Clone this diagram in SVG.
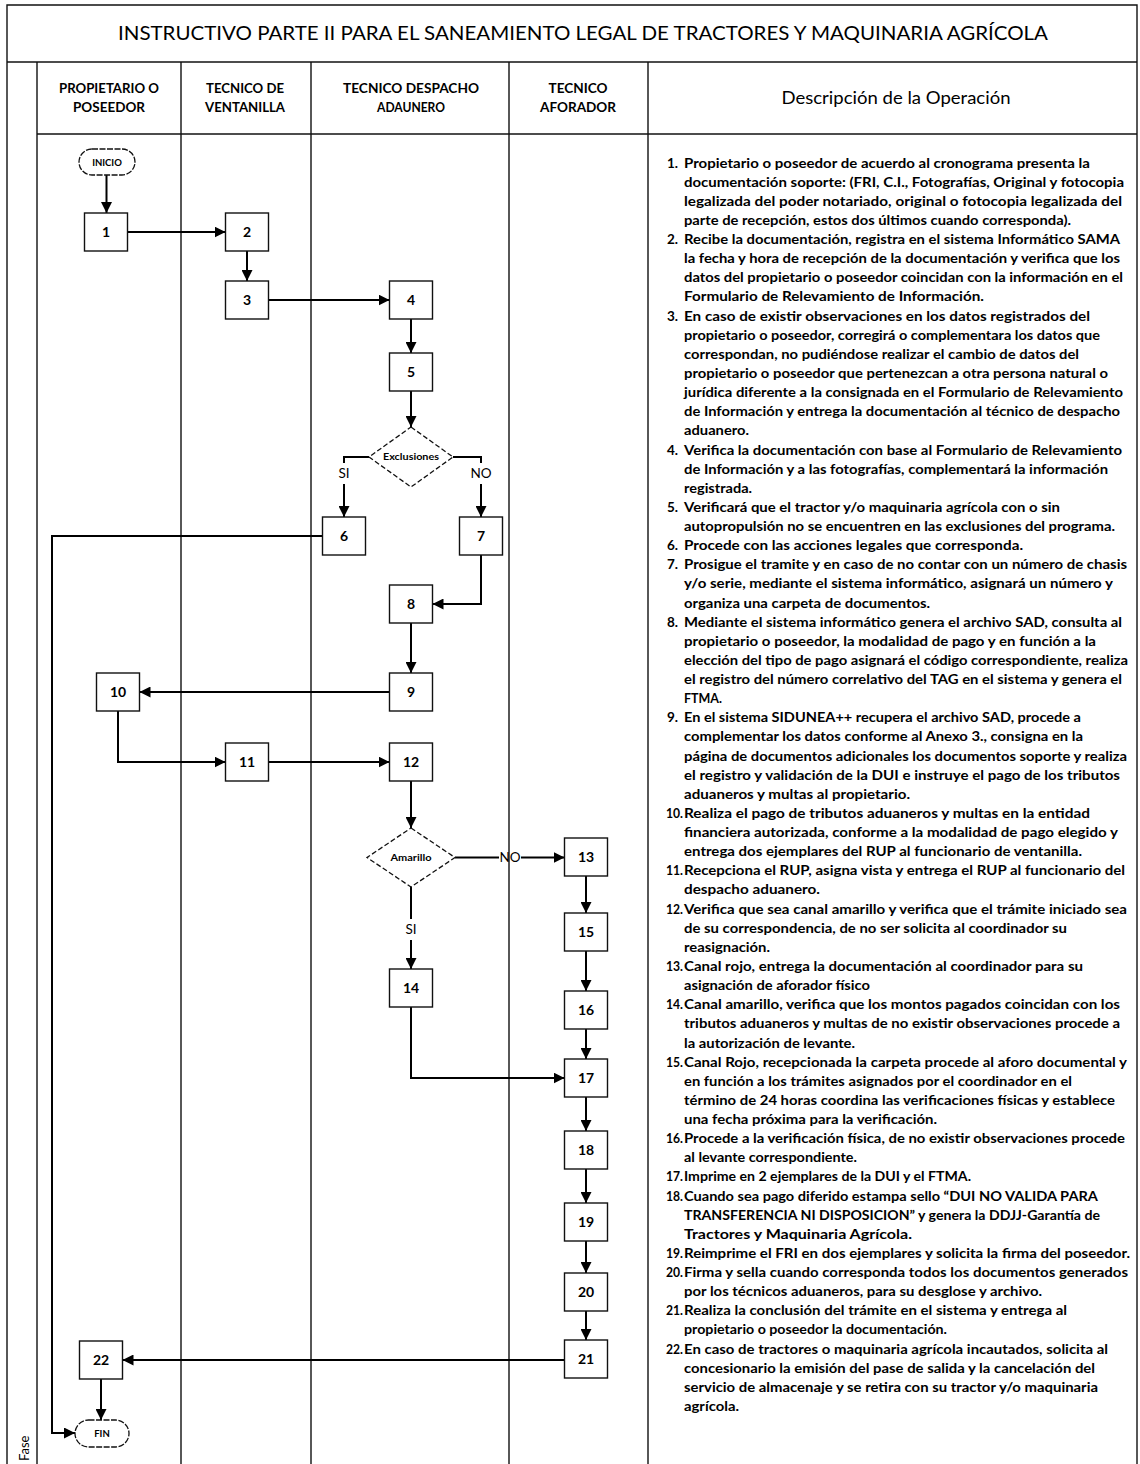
<svg xmlns="http://www.w3.org/2000/svg" width="1140" height="1464" viewBox="0 0 1140 1464">
<style>
.lane{stroke:#111;stroke-width:1.4;fill:none}
.box{fill:#fff;stroke:#111;stroke-width:1.4}
.dia{fill:#fff;stroke:#111;stroke-width:1.3;stroke-dasharray:5 2.5}
.term{fill:#fff;stroke:#111;stroke-width:1.3;stroke-dasharray:6 1.5}
.conn{stroke:#000;stroke-width:2;fill:none}
.num{font-family:Lato,"Liberation Sans",sans-serif;font-weight:700;font-size:14px;text-anchor:middle;fill:#000}
.small{font-family:Lato,"Liberation Sans",sans-serif;font-weight:700;font-size:9.5px;text-anchor:middle;fill:#000}
.lbl{font-family:Lato,"Liberation Sans",sans-serif;font-size:13.5px;text-anchor:middle;fill:#000}
.hdr{font-family:Lato,"Liberation Sans",sans-serif;font-weight:700;font-size:12.5px;text-anchor:middle;fill:#000}
.title{font-family:Lato,"Liberation Sans",sans-serif;font-size:20px;text-anchor:middle;fill:#000}
.desc{font-family:Lato,"Liberation Sans",sans-serif;font-weight:700;font-size:13.5px;fill:#000}
</style>
<defs>
<marker id="arr" viewBox="0 0 10 10" refX="10" refY="5" markerWidth="11" markerHeight="11" markerUnits="userSpaceOnUse" orient="auto"><path d="M0,0 L10,5 L0,10 z" fill="#000"/></marker>
</defs>

<g id="frame">
<path class="lane" d="M7,1464 V5 H1137 V1464"/>
<path class="lane" d="M7,62 H1137"/>
<path class="lane" d="M37,134 H1137"/>
<path class="lane" d="M37,62 V1464 M181,62 V1464 M311,62 V1464 M509,62 V1464 M648,62 V1464"/>
<text class="title" x="583" y="40" textLength="930" lengthAdjust="spacingAndGlyphs">INSTRUCTIVO PARTE II PARA EL SANEAMIENTO LEGAL DE TRACTORES Y MAQUINARIA AGRÍCOLA</text>
<text class="hdr" x="109" y="93" textLength="100" lengthAdjust="spacingAndGlyphs">PROPIETARIO O</text>
<text class="hdr" x="109" y="112" textLength="72" lengthAdjust="spacingAndGlyphs">POSEEDOR</text>
<text class="hdr" x="245" y="93" textLength="78" lengthAdjust="spacingAndGlyphs">TECNICO DE</text>
<text class="hdr" x="245" y="112" textLength="80" lengthAdjust="spacingAndGlyphs">VENTANILLA</text>
<text class="hdr" x="411" y="93" textLength="136" lengthAdjust="spacingAndGlyphs">TECNICO DESPACHO</text>
<text class="hdr" x="411" y="112" textLength="68" lengthAdjust="spacingAndGlyphs">ADAUNERO</text>
<text class="hdr" x="578" y="93" textLength="59" lengthAdjust="spacingAndGlyphs">TECNICO</text>
<text class="hdr" x="578" y="112" textLength="76" lengthAdjust="spacingAndGlyphs">AFORADOR</text>
<text x="896" y="104" font-family="Lato, 'Liberation Sans', sans-serif" font-size="16.5" text-anchor="middle" textLength="229" lengthAdjust="spacingAndGlyphs">Descripción de la Operación</text>
<text transform="translate(29,1461) rotate(-90)" x="0" y="0" font-family="Lato, 'Liberation Sans', sans-serif" font-size="13">Fase</text>
</g>

<g id="connectors">
<path class="conn" d="M106.5,175 V213" marker-end="url(#arr)"/>
<path class="conn" d="M128,232 H225.5" marker-end="url(#arr)"/>
<path class="conn" d="M247,251 V281" marker-end="url(#arr)"/>
<path class="conn" d="M268.5,300 H389.5" marker-end="url(#arr)"/>
<path class="conn" d="M411,319 V353" marker-end="url(#arr)"/>
<path class="conn" d="M411,391 V427" marker-end="url(#arr)"/>
<path class="conn" d="M369,457 H344 V463"/>
<path class="conn" d="M344,484 V517" marker-end="url(#arr)"/>
<path class="conn" d="M453,457 H481 V463"/>
<path class="conn" d="M481,484 V517" marker-end="url(#arr)"/>
<path class="conn" d="M481,555 V604 H432.5" marker-end="url(#arr)"/>
<path class="conn" d="M411,623 V673" marker-end="url(#arr)"/>
<path class="conn" d="M389.5,692 H139.5" marker-end="url(#arr)"/>
<path class="conn" d="M118,711 V762 H225.5" marker-end="url(#arr)"/>
<path class="conn" d="M268.5,762 H389.5" marker-end="url(#arr)"/>
<path class="conn" d="M411,781 V828" marker-end="url(#arr)"/>
<path class="conn" d="M455,857.5 H499"/>
<path class="conn" d="M521,857.5 H564.5" marker-end="url(#arr)"/>
<path class="conn" d="M411,887 V919"/>
<path class="conn" d="M411,940 V969" marker-end="url(#arr)"/>
<path class="conn" d="M586,876 V913" marker-end="url(#arr)"/>
<path class="conn" d="M586,951 V991" marker-end="url(#arr)"/>
<path class="conn" d="M586,1029 V1059" marker-end="url(#arr)"/>
<path class="conn" d="M411,1007 V1078 H564.5" marker-end="url(#arr)"/>
<path class="conn" d="M586,1097 V1131" marker-end="url(#arr)"/>
<path class="conn" d="M586,1169 V1203" marker-end="url(#arr)"/>
<path class="conn" d="M586,1241 V1273" marker-end="url(#arr)"/>
<path class="conn" d="M586,1311 V1340" marker-end="url(#arr)"/>
<path class="conn" d="M564.5,1360 H122.5" marker-end="url(#arr)"/>
<path class="conn" d="M101,1379 V1420" marker-end="url(#arr)"/>
<path class="conn" d="M322.5,536 H52 V1433 H75" marker-end="url(#arr)"/>
<text class="lbl" x="344" y="478">SI</text>
<text class="lbl" x="481" y="478">NO</text>
<text class="lbl" x="510" y="862">NO</text>
<text class="lbl" x="411" y="934">SI</text>
</g>

<g id="n-inicio"><rect class="term" x="79" y="149" width="56" height="26" rx="13"/><text class="small" x="107" y="166">INICIO</text></g>
<g id="n1"><rect class="box" x="84.5" y="213" width="43" height="38"/><text class="num" x="106" y="237">1</text></g>
<g id="n2"><rect class="box" x="225.5" y="213" width="43" height="38"/><text class="num" x="247" y="237">2</text></g>
<g id="n3"><rect class="box" x="225.5" y="281" width="43" height="38"/><text class="num" x="247" y="305">3</text></g>
<g id="n4"><rect class="box" x="389.5" y="281" width="43" height="38"/><text class="num" x="411" y="305">4</text></g>
<g id="n5"><rect class="box" x="389.5" y="353" width="43" height="38"/><text class="num" x="411" y="377">5</text></g>
<g id="d-exclusiones"><polygon class="dia" points="411,427 453,457 411,487 369,457"/><text class="small" x="411" y="460" textLength="56" lengthAdjust="spacingAndGlyphs">Exclusiones</text></g>
<g id="n6"><rect class="box" x="322.5" y="517" width="43" height="38"/><text class="num" x="344" y="541">6</text></g>
<g id="n7"><rect class="box" x="459.5" y="517" width="43" height="38"/><text class="num" x="481" y="541">7</text></g>
<g id="n8"><rect class="box" x="389.5" y="585" width="43" height="38"/><text class="num" x="411" y="609">8</text></g>
<g id="n9"><rect class="box" x="389.5" y="673" width="43" height="38"/><text class="num" x="411" y="697">9</text></g>
<g id="n10"><rect class="box" x="96.5" y="673" width="43" height="38"/><text class="num" x="118" y="697">10</text></g>
<g id="n11"><rect class="box" x="225.5" y="743" width="43" height="38"/><text class="num" x="247" y="767">11</text></g>
<g id="n12"><rect class="box" x="389.5" y="743" width="43" height="38"/><text class="num" x="411" y="767">12</text></g>
<g id="d-amarillo"><polygon class="dia" points="411,828 455,857.5 411,887 367,857.5"/><text class="small" x="411" y="861" textLength="41" lengthAdjust="spacingAndGlyphs">Amarillo</text></g>
<g id="n13"><rect class="box" x="564.5" y="838" width="43" height="38"/><text class="num" x="586" y="862">13</text></g>
<g id="n14"><rect class="box" x="389.5" y="969" width="43" height="38"/><text class="num" x="411" y="993">14</text></g>
<g id="n15"><rect class="box" x="564.5" y="913" width="43" height="38"/><text class="num" x="586" y="937">15</text></g>
<g id="n16"><rect class="box" x="564.5" y="991" width="43" height="38"/><text class="num" x="586" y="1015">16</text></g>
<g id="n17"><rect class="box" x="564.5" y="1059" width="43" height="38"/><text class="num" x="586" y="1083">17</text></g>
<g id="n18"><rect class="box" x="564.5" y="1131" width="43" height="38"/><text class="num" x="586" y="1155">18</text></g>
<g id="n19"><rect class="box" x="564.5" y="1203" width="43" height="38"/><text class="num" x="586" y="1227">19</text></g>
<g id="n20"><rect class="box" x="564.5" y="1273" width="43" height="38"/><text class="num" x="586" y="1297">20</text></g>
<g id="n21"><rect class="box" x="564.5" y="1340" width="43" height="38"/><text class="num" x="586" y="1364">21</text></g>
<g id="n22"><rect class="box" x="79.5" y="1341" width="43" height="38"/><text class="num" x="101" y="1365">22</text></g>
<g id="n-fin"><rect class="term" x="75" y="1420" width="54" height="27" rx="13.5"/><text class="small" x="102" y="1437">FIN</text></g>

<g id="description" class="desc">
<text x="667" y="167.5">1.</text>
<text x="684" y="167.5" textLength="406" lengthAdjust="spacingAndGlyphs">Propietario o poseedor de acuerdo al cronograma presenta la</text>
<text x="684" y="186.6" textLength="440" lengthAdjust="spacingAndGlyphs">documentación soporte: (FRI, C.I., Fotografías, Original y fotocopia</text>
<text x="684" y="205.8" textLength="438" lengthAdjust="spacingAndGlyphs">legalizada del poder notariado, original o fotocopia legalizada del</text>
<text x="684" y="224.9" textLength="387" lengthAdjust="spacingAndGlyphs">parte de recepción, estos dos últimos cuando corresponda).</text>
<text x="667" y="244.0">2.</text>
<text x="684" y="244.0" textLength="436" lengthAdjust="spacingAndGlyphs">Recibe la documentación, registra en el sistema Informático SAMA</text>
<text x="684" y="263.2" textLength="436" lengthAdjust="spacingAndGlyphs">la fecha y hora de recepción de la documentación y verifica que los</text>
<text x="684" y="282.3" textLength="439" lengthAdjust="spacingAndGlyphs">datos del propietario o poseedor coincidan con la información en el</text>
<text x="684" y="301.4" textLength="300" lengthAdjust="spacingAndGlyphs">Formulario de Relevamiento de Información.</text>
<text x="667" y="320.5">3.</text>
<text x="684" y="320.5" textLength="406" lengthAdjust="spacingAndGlyphs">En caso de existir observaciones en los datos registrados del</text>
<text x="684" y="339.7" textLength="416" lengthAdjust="spacingAndGlyphs">propietario o poseedor, corregirá o complementara los datos que</text>
<text x="684" y="358.8" textLength="395" lengthAdjust="spacingAndGlyphs">correspondan, no pudiéndose realizar el cambio de datos del</text>
<text x="684" y="377.9" textLength="424" lengthAdjust="spacingAndGlyphs">propietario o poseedor que pertenezcan a otra persona natural o</text>
<text x="684" y="397.1" textLength="439" lengthAdjust="spacingAndGlyphs">jurídica diferente a la consignada en el Formulario de Relevamiento</text>
<text x="684" y="416.2" textLength="436" lengthAdjust="spacingAndGlyphs">de Información y entrega la documentación al técnico de despacho</text>
<text x="684" y="435.3" textLength="65" lengthAdjust="spacingAndGlyphs">aduanero.</text>
<text x="667" y="454.5">4.</text>
<text x="684" y="454.5" textLength="438" lengthAdjust="spacingAndGlyphs">Verifica la documentación con base al Formulario de Relevamiento</text>
<text x="684" y="473.6" textLength="424" lengthAdjust="spacingAndGlyphs">de Información y a las fotografías, complementará la información</text>
<text x="684" y="492.7" textLength="68" lengthAdjust="spacingAndGlyphs">registrada.</text>
<text x="667" y="511.8">5.</text>
<text x="684" y="511.8" textLength="376" lengthAdjust="spacingAndGlyphs">Verificará que el tractor y/o maquinaria agrícola con o sin</text>
<text x="684" y="531.0" textLength="431" lengthAdjust="spacingAndGlyphs">autopropulsión no se encuentren en las exclusiones del programa.</text>
<text x="667" y="550.1">6.</text>
<text x="684" y="550.1" textLength="339" lengthAdjust="spacingAndGlyphs">Procede con las acciones legales que corresponda.</text>
<text x="667" y="569.2">7.</text>
<text x="684" y="569.2" textLength="443" lengthAdjust="spacingAndGlyphs">Prosigue el tramite y en caso de no contar con un número de chasis</text>
<text x="684" y="588.4" textLength="429" lengthAdjust="spacingAndGlyphs">y/o serie, mediante el sistema informático, asignará un número y</text>
<text x="684" y="607.5" textLength="246" lengthAdjust="spacingAndGlyphs">organiza una carpeta de documentos.</text>
<text x="667" y="626.6">8.</text>
<text x="684" y="626.6" textLength="438" lengthAdjust="spacingAndGlyphs">Mediante el sistema informático genera el archivo SAD, consulta al</text>
<text x="684" y="645.8" textLength="412" lengthAdjust="spacingAndGlyphs">propietario o poseedor, la modalidad de pago y en función a la</text>
<text x="684" y="664.9" textLength="444" lengthAdjust="spacingAndGlyphs">elección del tipo de pago asignará el código correspondiente, realiza</text>
<text x="684" y="684.0" textLength="438" lengthAdjust="spacingAndGlyphs">el registro del número correlativo del TAG en el sistema y genera el</text>
<text x="684" y="703.1" textLength="38" lengthAdjust="spacingAndGlyphs">FTMA.</text>
<text x="667" y="722.3">9.</text>
<text x="684" y="722.3" textLength="397" lengthAdjust="spacingAndGlyphs">En el sistema SIDUNEA++ recupera el archivo SAD, procede a</text>
<text x="684" y="741.4" textLength="399" lengthAdjust="spacingAndGlyphs">complementar los datos conforme al Anexo 3., consigna en la</text>
<text x="684" y="760.5" textLength="443" lengthAdjust="spacingAndGlyphs">página de documentos adicionales los documentos soporte y realiza</text>
<text x="684" y="779.7" textLength="436" lengthAdjust="spacingAndGlyphs">el registro y validación de la DUI e instruye el pago de los tributos</text>
<text x="684" y="798.8" textLength="226" lengthAdjust="spacingAndGlyphs">aduaneros y multas al propietario.</text>
<text x="666" y="817.9" textLength="17" lengthAdjust="spacingAndGlyphs">10.</text>
<text x="684" y="817.9" textLength="406" lengthAdjust="spacingAndGlyphs">Realiza el pago de tributos aduaneros y multas en la entidad</text>
<text x="684" y="837.1" textLength="434" lengthAdjust="spacingAndGlyphs">financiera autorizada, conforme a la modalidad de pago elegido y</text>
<text x="684" y="856.2" textLength="398" lengthAdjust="spacingAndGlyphs">entrega dos ejemplares del RUP al funcionario de ventanilla.</text>
<text x="666" y="875.3" textLength="17" lengthAdjust="spacingAndGlyphs">11.</text>
<text x="684" y="875.3" textLength="441" lengthAdjust="spacingAndGlyphs">Recepciona el RUP, asigna vista y entrega el RUP al funcionario del</text>
<text x="684" y="894.4" textLength="136" lengthAdjust="spacingAndGlyphs">despacho aduanero.</text>
<text x="666" y="913.6" textLength="17" lengthAdjust="spacingAndGlyphs">12.</text>
<text x="684" y="913.6" textLength="443" lengthAdjust="spacingAndGlyphs">Verifica que sea canal amarillo y verifica que el trámite iniciado sea</text>
<text x="684" y="932.7" textLength="383" lengthAdjust="spacingAndGlyphs">de su correspondencia, de no ser solicita al coordinador su</text>
<text x="684" y="951.8" textLength="86" lengthAdjust="spacingAndGlyphs">reasignación.</text>
<text x="666" y="971.0" textLength="17" lengthAdjust="spacingAndGlyphs">13.</text>
<text x="684" y="971.0" textLength="399" lengthAdjust="spacingAndGlyphs">Canal rojo, entrega la documentación al coordinador para su</text>
<text x="684" y="990.1" textLength="186" lengthAdjust="spacingAndGlyphs">asignación de aforador físico</text>
<text x="666" y="1009.2" textLength="17" lengthAdjust="spacingAndGlyphs">14.</text>
<text x="684" y="1009.2" textLength="436" lengthAdjust="spacingAndGlyphs">Canal amarillo, verifica que los montos pagados coincidan con los</text>
<text x="684" y="1028.4" textLength="436" lengthAdjust="spacingAndGlyphs">tributos aduaneros y multas de no existir observaciones procede a</text>
<text x="684" y="1047.5" textLength="171" lengthAdjust="spacingAndGlyphs">la autorización de levante.</text>
<text x="666" y="1066.6" textLength="17" lengthAdjust="spacingAndGlyphs">15.</text>
<text x="684" y="1066.6" textLength="443" lengthAdjust="spacingAndGlyphs">Canal Rojo, recepcionada la carpeta procede al aforo documental y</text>
<text x="684" y="1085.7" textLength="388" lengthAdjust="spacingAndGlyphs">en función a los trámites asignados por el coordinador en el</text>
<text x="684" y="1104.9" textLength="431" lengthAdjust="spacingAndGlyphs">término de 24 horas coordina las verificaciones físicas y establece</text>
<text x="684" y="1124.0" textLength="253" lengthAdjust="spacingAndGlyphs">una fecha próxima para la verificación.</text>
<text x="666" y="1143.1" textLength="17" lengthAdjust="spacingAndGlyphs">16.</text>
<text x="684" y="1143.1" textLength="441" lengthAdjust="spacingAndGlyphs">Procede a la verificación física, de no existir observaciones procede</text>
<text x="684" y="1162.3" textLength="173" lengthAdjust="spacingAndGlyphs">al levante correspondiente.</text>
<text x="666" y="1181.4" textLength="17" lengthAdjust="spacingAndGlyphs">17.</text>
<text x="684" y="1181.4" textLength="287" lengthAdjust="spacingAndGlyphs">Imprime en 2 ejemplares de la DUI y el FTMA.</text>
<text x="666" y="1200.5" textLength="17" lengthAdjust="spacingAndGlyphs">18.</text>
<text x="684" y="1200.5" textLength="414" lengthAdjust="spacingAndGlyphs">Cuando sea pago diferido estampa sello “DUI NO VALIDA PARA</text>
<text x="684" y="1219.7" textLength="416" lengthAdjust="spacingAndGlyphs">TRANSFERENCIA NI DISPOSICION” y genera la DDJJ-Garantía de</text>
<text x="684" y="1238.8" textLength="228" lengthAdjust="spacingAndGlyphs">Tractores y Maquinaria Agrícola.</text>
<text x="666" y="1257.9" textLength="17" lengthAdjust="spacingAndGlyphs">19.</text>
<text x="684" y="1257.9" textLength="446" lengthAdjust="spacingAndGlyphs">Reimprime el FRI en dos ejemplares y solicita la firma del poseedor.</text>
<text x="666" y="1277.0" textLength="17" lengthAdjust="spacingAndGlyphs">20.</text>
<text x="684" y="1277.0" textLength="444" lengthAdjust="spacingAndGlyphs">Firma y sella cuando corresponda todos los documentos generados</text>
<text x="684" y="1296.2" textLength="358" lengthAdjust="spacingAndGlyphs">por los técnicos aduaneros, para su desglose y archivo.</text>
<text x="666" y="1315.3" textLength="17" lengthAdjust="spacingAndGlyphs">21.</text>
<text x="684" y="1315.3" textLength="383" lengthAdjust="spacingAndGlyphs">Realiza la conclusión del trámite en el sistema y entrega al</text>
<text x="684" y="1334.4" textLength="263" lengthAdjust="spacingAndGlyphs">propietario o poseedor la documentación.</text>
<text x="666" y="1353.6" textLength="17" lengthAdjust="spacingAndGlyphs">22.</text>
<text x="684" y="1353.6" textLength="424" lengthAdjust="spacingAndGlyphs">En caso de tractores o maquinaria agrícola incautados, solicita al</text>
<text x="684" y="1372.7" textLength="411" lengthAdjust="spacingAndGlyphs">concesionario la emisión del pase de salida y la cancelación del</text>
<text x="684" y="1391.8" textLength="414" lengthAdjust="spacingAndGlyphs">servicio de almacenaje y se retira con su tractor y/o maquinaria</text>
<text x="684" y="1411.0" textLength="55" lengthAdjust="spacingAndGlyphs">agrícola.</text>
</g>
</svg>
